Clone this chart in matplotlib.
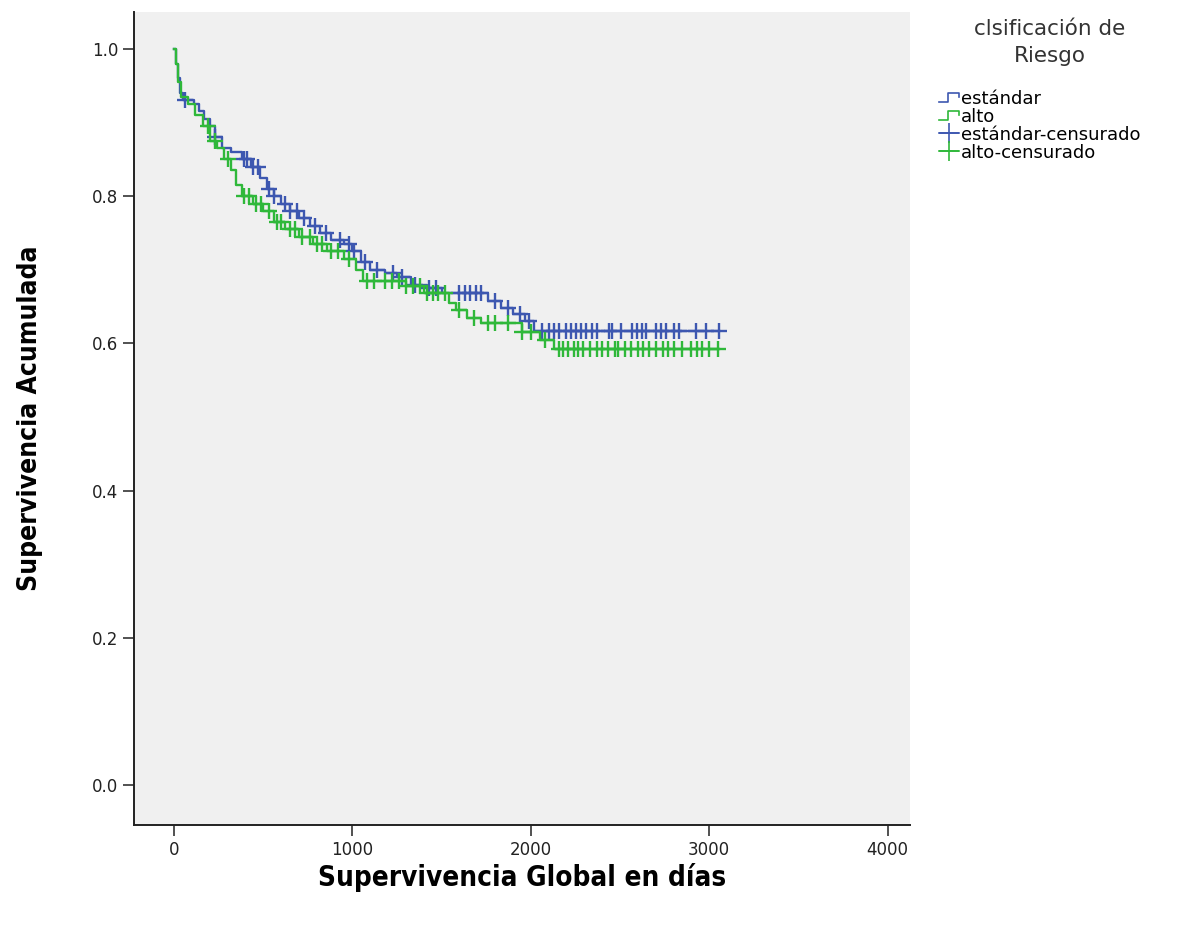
#curvas de supervivencia Kaplan-Meier por clasificación de riesgo
import numpy as np
import matplotlib
matplotlib.use('Agg')
import matplotlib.pyplot as plt
from matplotlib.lines import Line2D
from matplotlib.legend_handler import HandlerBase

#datos (tiempo en dias, supervivencia tras el evento)
std_t = [0, 10, 20, 35, 50, 110, 140, 170, 200, 230, 270, 320, 380, 430, 480, 520, 560,
         600, 650, 700, 760, 820, 880, 950, 1000, 1050, 1100, 1180, 1250, 1330, 1420,
         1500, 1760, 1830, 1900, 1970, 2020]
std_s = [1.0, 0.98, 0.96, 0.94, 0.93, 0.925, 0.915, 0.905, 0.895, 0.88, 0.865, 0.86, 0.85,
         0.84, 0.825, 0.81, 0.80, 0.79, 0.78, 0.77, 0.76, 0.75, 0.74, 0.735, 0.725, 0.71,
         0.70, 0.695, 0.69, 0.68, 0.675, 0.668, 0.658, 0.648, 0.64, 0.63, 0.617]
std_cens = [60, 230, 390, 410, 440, 470, 530, 560, 620, 650, 690, 730, 790, 850, 930, 980,
            1010, 1070, 1140, 1230, 1280, 1350, 1430, 1470, 1600, 1630, 1660, 1690, 1720,
            1800, 1870, 1940, 1990, 2060, 2100, 2130, 2160, 2199, 2227, 2255, 2283, 2311,
            2344, 2372, 2439, 2456, 2506, 2568, 2596, 2624, 2646, 2702, 2730, 2758, 2803,
            2831, 2926, 2982, 3055]

alto_t = [0, 10, 25, 40, 80, 120, 160, 200, 240, 280, 320, 350, 380, 440, 500, 560, 620,
          700, 780, 860, 950, 1020, 1060, 1300, 1400, 1540, 1580, 1640, 1720, 1950, 2050,
          2130]
alto_s = [1.0, 0.98, 0.955, 0.935, 0.925, 0.91, 0.895, 0.875, 0.865, 0.85, 0.835, 0.815,
          0.80, 0.79, 0.78, 0.765, 0.755, 0.745, 0.735, 0.725, 0.715, 0.70, 0.685, 0.678,
          0.668, 0.655, 0.645, 0.635, 0.628, 0.615, 0.605, 0.593]
alto_cens = [190, 230, 300, 390, 420, 460, 490, 530, 580, 600, 650, 680, 720, 760, 800,
             830, 880, 920, 980, 1080, 1120, 1180, 1220, 1260, 1300, 1340, 1380, 1420, 1450,
             1480, 1520, 1600, 1680, 1760, 1800, 1870, 1950, 2000, 2080, 2160, 2180, 2210,
             2240, 2265, 2290, 2330, 2370, 2400, 2430, 2470, 2490, 2530, 2560, 2600, 2630,
             2660, 2700, 2740, 2770, 2800, 2850, 2900, 2930, 2960, 3000, 3050]

grupos = ['estándar', 'alto']
etiquetas = ['estándar', 'alto', 'estándar-censurado', 'alto-censurado']
colores = ['#3d57b0', '#2fb83a']
x_ticks = [0, 1000, 2000, 3000, 4000]
y_ticks = [0.0, 0.2, 0.4, 0.6, 0.8, 1.0]
t_fin = 3055


def valor_km(t, s, tc):
    idx = np.searchsorted(t, tc, side='right') - 1
    return np.array(s)[idx]


#simbolo de escalon para la leyenda
class HandlerEscalon(HandlerBase):
    def create_artists(self, legend, orig, xd, yd, w, h, fontsize, trans):
        xs = [-xd, -xd + 0.45 * w, -xd + 0.45 * w, -xd + w, -xd + w]
        ys = [-yd + 0.15 * h, -yd + 0.15 * h, -yd + 0.85 * h, -yd + 0.85 * h, -yd + 0.5 * h]
        ln = Line2D(xs, ys, color=orig.get_color(), lw=1.2, transform=trans)
        return [ln]


fig = plt.figure(figsize=(11.81, 9.25), dpi=100)
ax = fig.add_axes([0.1135, 0.108, 0.657, 0.879])
ax.set_facecolor('#f0f0f0')

curvas = [(std_t, std_s, std_cens), (alto_t, alto_s, alto_cens)]
h_lineas = []
h_cens = []
for (t, s, tc), nombre, c in zip(curvas, grupos, colores):
    tt = list(t) + [t_fin]
    ss = list(s) + [s[-1]]
    l, = ax.step(tt, ss, where='post', color=c, lw=1.7, label=nombre)
    ax.plot(tc, valor_km(t, s, tc), linestyle='none', marker='+', ms=11, mew=1.7, color=c)
    h_lineas.append(l)
    h_cens.append(Line2D([], [], color=c, lw=1.2, marker='+', ms=14, mew=1.2))

ax.set_xlim(-224, 4125)
ax.set_ylim(-0.054, 1.05)
ax.set_xticks(x_ticks)
ax.set_xticklabels([str(v) for v in x_ticks])
ax.set_yticks(y_ticks)
ax.set_yticklabels(['%.1f' % v for v in y_ticks])
ax.tick_params(direction='out', length=8, width=1.2, color='#333333', labelcolor='#222222')
for lab in ax.get_xticklabels() + ax.get_yticklabels():
    lab.set_family('DejaVu Sans')
    lab.set_fontsize(12)

for lado in ['top', 'right']:
    ax.spines[lado].set_visible(False)
for lado in ['left', 'bottom']:
    ax.spines[lado].set_linewidth(1.4)
    ax.spines[lado].set_color('#222222')

ax.set_xlabel('Supervivencia Global en días', fontsize=20, fontweight='bold',
              family='DejaVu Sans', fontstretch='condensed', labelpad=3)
ax.set_ylabel('Supervivencia Acumulada', fontsize=19, fontweight='bold',
              family='DejaVu Sans', fontstretch='condensed', labelpad=35)

#leyenda
fig.text(0.889, 0.979, 'clsificación de\nRiesgo', ha='center', va='top', fontsize=15.5,
         family='DejaVu Sans', color='#333333', linespacing=1.4)
leg = fig.legend(h_lineas + h_cens, etiquetas,
                 loc='upper left', bbox_to_anchor=(0.789, 0.911), frameon=False,
                 handlelength=1.1, handletextpad=0.1, labelspacing=0.0, numpoints=1,
                 borderaxespad=0, prop={'family': 'DejaVu Sans', 'size': 13},
                 handler_map={h_lineas[0]: HandlerEscalon(), h_lineas[1]: HandlerEscalon()})

plt.savefig('out.png', dpi=100)
